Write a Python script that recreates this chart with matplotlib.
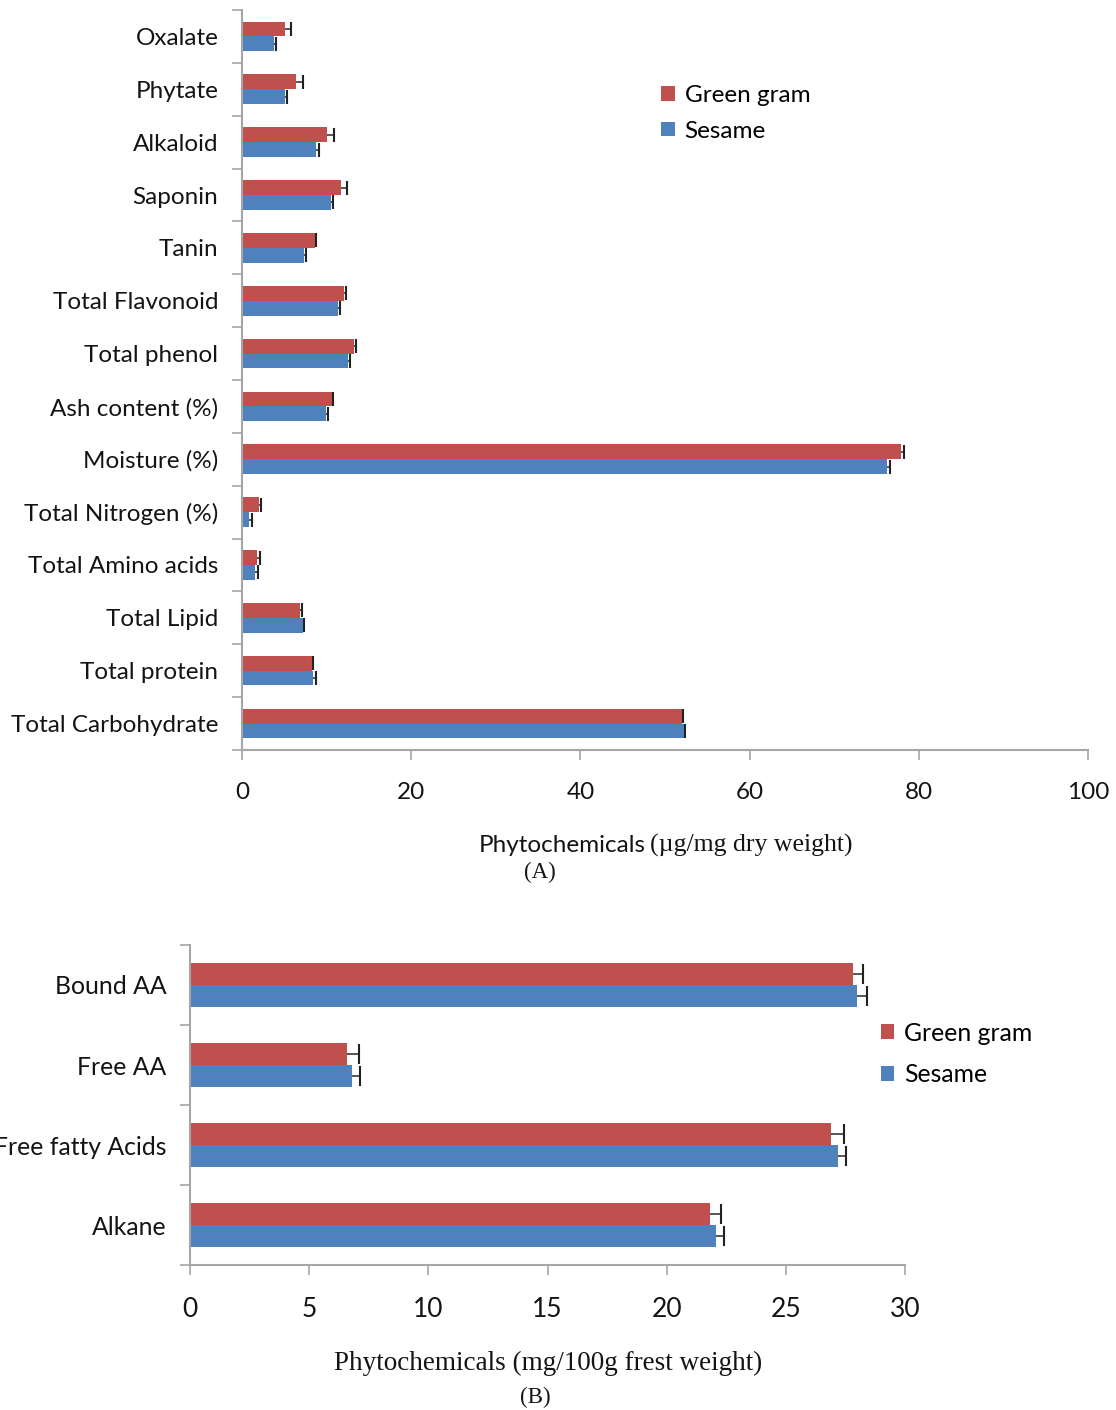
import matplotlib
matplotlib.use("Agg")
import matplotlib.pyplot as plt
import numpy as np

plt.rcParams['font.family'] = ['Lato', 'DejaVu Sans']

# Panel A: proximate composition and phytochemicals
cats_a = ['Oxalate', 'Phytate', 'Alkaloid', 'Saponin', 'Tanin', 'Total Flavonoid',
          'Total phenol', 'Ash content (%)', 'Moisture (%)', 'Total Nitrogen (%)',
          'Total Amino acids', 'Total Lipid', 'Total protein', 'Total Carbohydrate']
green_a = [5.05, 6.4, 10.0, 11.7, 8.6, 12.1, 13.2, 10.6, 77.9, 2.0, 1.8, 6.9, 8.3, 52.0]
green_a_err = [0.8, 0.85, 0.9, 0.7, 0.2, 0.25, 0.28, 0.2, 0.3, 0.2, 0.3, 0.2, 0.12, 0.15]
sesame_a = [3.8, 5.1, 8.8, 10.5, 7.3, 11.35, 12.5, 9.9, 76.3, 0.85, 1.55, 7.2, 8.45, 52.2]
sesame_a_err = [0.2, 0.28, 0.3, 0.25, 0.27, 0.27, 0.24, 0.28, 0.3, 0.35, 0.35, 0.1, 0.3, 0.12]

# Panel B: amino acids, fatty acids, alkane
cats_b = ['Bound AA', 'Free AA', 'Free fatty Acids', 'Alkane']
green_b = [27.8, 6.6, 26.9, 21.8]
green_b_err = [0.45, 0.48, 0.53, 0.46]
sesame_b = [28.0, 6.8, 27.2, 22.07]
sesame_b_err = [0.4, 0.33, 0.33, 0.33]

RED = '#C0504D'
BLUE = '#4F81BD'
GRAY = '#A6A6A6'
TXT = '#141414'
SERIF = ['Liberation Serif', 'DejaVu Serif']


def plus_err(ax, y, vals, errs, capsz):
    # one-sided (+) error bars with a cap only at the outer end
    vals = np.asarray(vals)
    errs = np.asarray(errs)
    ax.hlines(y, vals, vals + errs, color='#555555', lw=1.4, zorder=3)
    ax.plot(vals + errs, y, ls='none', marker='|', ms=capsz, mew=1.5, color='#222222', zorder=3)


def panel(ax, cats, g, ge, s, se, xmax, xstep, bh, label_size, tick_size, capsz):
    y = np.arange(len(cats))
    ax.barh(y - bh / 2, g, height=bh, color=RED, label='Green gram')
    ax.barh(y + bh / 2, s, height=bh, color=BLUE, label='Sesame')
    plus_err(ax, y - bh / 2, g, ge, capsz)
    plus_err(ax, y + bh / 2, s, se, capsz)
    ax.set_ylim(len(cats) - 0.5, -0.5)
    ax.set_xlim(0, xmax)
    ax.set_yticks(y)
    ax.set_yticklabels(cats, fontsize=label_size, color=TXT)
    ax.set_yticks(np.arange(len(cats) + 1) - 0.5, minor=True)
    ax.tick_params(axis='y', which='major', length=0, pad=17)
    ax.tick_params(axis='y', which='minor', length=7, width=1.2, color=GRAY)
    ax.set_xticks(np.arange(0, xmax + 0.1, xstep))
    ax.tick_params(axis='x', length=7, width=1.2, color=GRAY, pad=16, labelsize=tick_size,
                   labelcolor=TXT)
    for side in ['top', 'right']:
        ax.spines[side].set_visible(False)
    for side in ['left', 'bottom']:
        ax.spines[side].set_color(GRAY)
        ax.spines[side].set_linewidth(1.5)


fig = plt.figure(figsize=(11.16, 14.1), dpi=100)

ax1 = fig.add_axes([0.2168, 0.4681, 0.7581, 0.5248])
panel(ax1, cats_a, green_a, green_a_err, sesame_a, sesame_a_err, 100, 20, 0.28, 17.5, 17.5, 10)
ax1.legend(loc='upper left', bbox_to_anchor=(0.47, 0.928), frameon=False, fontsize=17.5,
           handlelength=0.55, handleheight=0.55, handletextpad=0.4, labelspacing=0.6)
fig.text(646 / 1116, 1 - 845 / 1410, 'Phytochemicals', fontsize=17.5, ha='right', va='center',
         color=TXT)
fig.text(650 / 1116, 1 - 845 / 1410, '(µg/mg dry weight)', fontsize=18.5, ha='left', va='center',
         family=SERIF, color=TXT)
fig.text(540 / 1116, 1 - 872 / 1410, '(A)', fontsize=16.5, ha='center', va='center',
         family=SERIF, color=TXT)

ax2 = fig.add_axes([0.1703, 0.1028, 0.6407, 0.2270])
panel(ax2, cats_b, green_b, green_b_err, sesame_b, sesame_b_err, 30, 5, 0.28, 17.8, 19, 14)
ax2.legend(loc='upper left', bbox_to_anchor=(0.935, 0.83), frameon=False, fontsize=17.8,
           handlelength=0.55, handleheight=0.55, handletextpad=0.4, labelspacing=0.75)
fig.text(548 / 1116, 1 - 1363 / 1410, 'Phytochemicals (mg/100g frest weight)', fontsize=19.5,
         ha='center', va='center', family=SERIF, color=TXT)
fig.text(535 / 1116, 1 - 1397 / 1410, '(B)', fontsize=16.5, ha='center', va='center',
         family=SERIF, color=TXT)

fig.savefig('out.png', dpi=100)
